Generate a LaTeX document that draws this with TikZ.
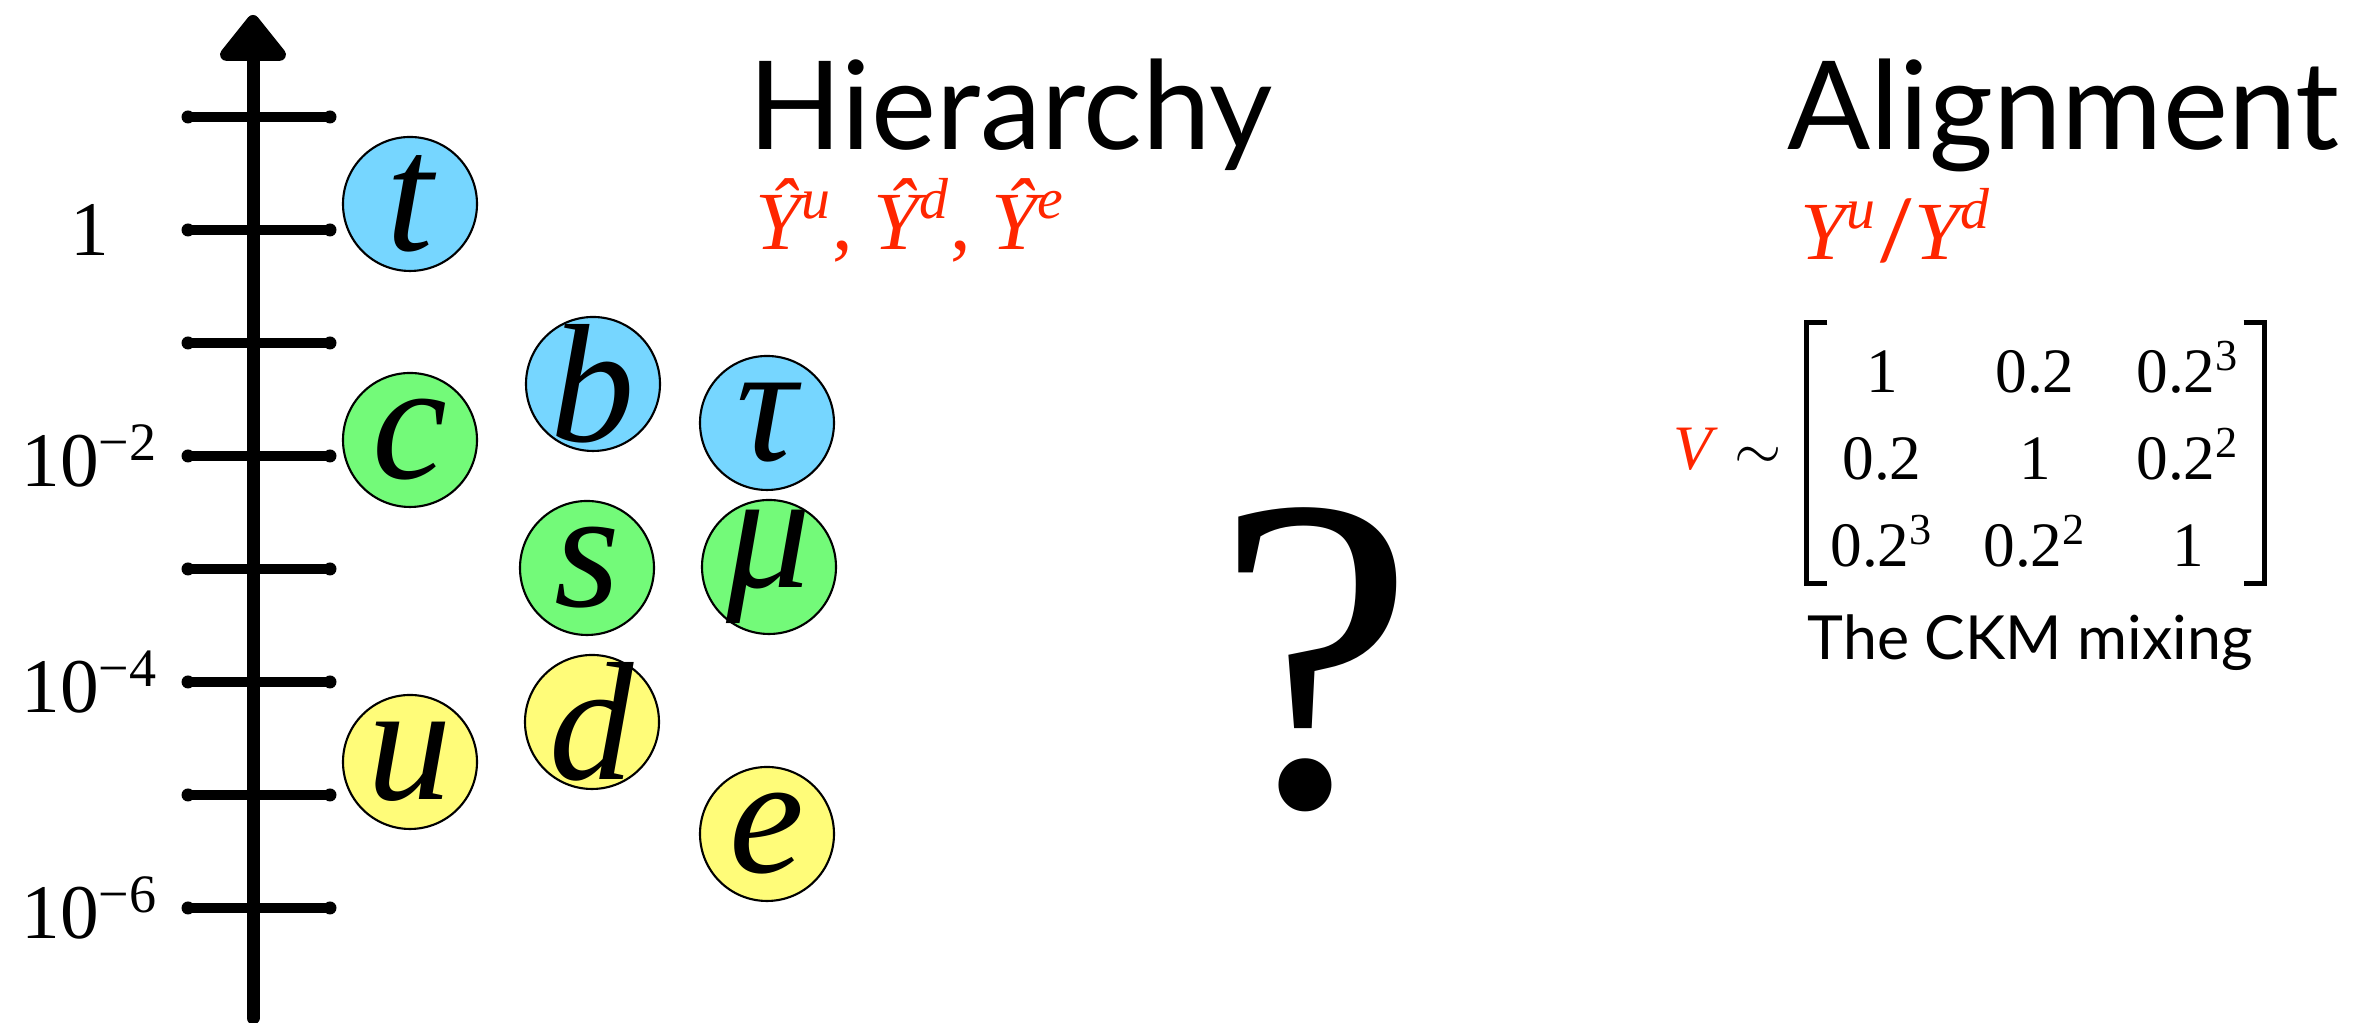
\documentclass[tikz,border=0pt]{standalone}
\usepackage{fontspec}
\setmainfont{Liberation Serif}
\newfontfamily\headfont{Lato}
\usetikzlibrary{arrows.meta,calc,matrix}
\definecolor{sky}{HTML}{76D6FF}
\definecolor{flora}{HTML}{73FA79}
\definecolor{banana}{HTML}{FFFC79}
\definecolor{keyred}{HTML}{FF2600}
% letter centred on its ink, taking no room in the node
\newcommand\fermletter[1]{\sbox0{#1}\makebox[0pt]{\smash{\raisebox{\dimexpr(\dp0-\ht0)/2\relax}{\usebox0}}}}
\tikzset{
  fermion/.style={circle, draw=black, line width=0.6pt, minimum size=1.34cm, inner sep=0pt, font=\fontsize{48}{52}\selectfont\itshape},
  gen3/.style={fermion, fill=sky},
  gen2/.style={fermion, fill=flora},
  gen1/.style={fermion, fill=banana},
  axis/.style={line width=0.13cm, line cap=round, -{Triangle[length=0.5cm, width=0.76cm, round]}},
  tickmark/.style={line width=0.1cm, line cap=round},
  scalelabel/.style={font=\fontsize{22}{26}\selectfont, inner sep=0pt},
  heading/.style={anchor=base west, inner sep=0pt, font=\fontsize{35}{40}\selectfont\headfont},
  coupling/.style={anchor=base west, inner sep=0pt, text=keyred, font=\fontsize{23.5}{28}\selectfont},
  entry/.style={font=\fontsize{18}{22}\selectfont, minimum width=1.3cm, text height=0.5cm, text depth=0.05cm, inner sep=0pt},
  bracket/.style={line width=1.3pt}
}

\begin{document}
\begin{tikzpicture}
  \useasboundingbox (0,0) rectangle (23.66,10.23);
  % the mass scale
  \coordinate (axisbot) at (2.53,0.05);
  \coordinate (axistop) at (2.53,10.08);
  \foreach \k in {0,...,7} {
    \draw[tickmark] (1.88,{9.06-1.13*\k}) -- (3.30,{9.06-1.13*\k});
    \fill (1.88,{9.06-1.13*\k}) circle (0.065) (3.30,{9.06-1.13*\k}) circle (0.065);
  }
  \draw[axis] (axisbot) -- (axistop);
  \node[scalelabel] (exp0) at (0.90,7.93) {1};
  \foreach \k/\e in {3/2,5/4,7/6}
    \node[scalelabel] (exp\e) at (0.90,{9.06-1.13*\k}) {10\textsuperscript{−\e}};

  % the fermions
  \node[gen3] (top) at (4.10,8.19) {\fermletter{t}};
  \node[gen2] (charm) at (4.10,5.83) {\fermletter{c}};
  \node[gen1] (up) at (4.10,2.61) {\fermletter{u}};
  \node[gen3] (bottom) at (5.93,6.39) {\fermletter{b}};
  \node[gen2] (strange) at (5.87,4.55) {\fermletter{s}};
  \node[gen1] (down) at (5.92,3.01) {\fermletter{d}};
  \node[gen3] (tau) at (7.67,6.00) {\fermletter{τ}};
  \node[gen2] (muon) at (7.69,4.56) {\fermletter{μ}};
  \node[gen1] (electron) at (7.67,1.89) {\fermletter{e}};

  \node[heading] (hier) at (7.48,8.73) {Hierarchy};
  \node[coupling] (yhat) at (7.55,7.73) {\textit{Ŷ\textsuperscript{u}}, \textit{Ŷ\textsuperscript{d}}, \textit{Ŷ\textsuperscript{e}}};

  \node[font=\fontsize{128}{140}\selectfont, inner sep=0pt, anchor=base] (puzzle) at (13.15,2.17) {?};

  \node[heading] (align) at (17.87,8.73) {Alignment};
  \node[coupling] (yratio) at (18.00,7.63) {\textit{Y\textsuperscript{u}}{\headfont /}\textit{Y\textsuperscript{d}}};

  % CKM matrix
  \node[coupling, font=\fontsize{18}{22}\selectfont] (vlabel) at (16.73,5.53) {\textit{V} \textcolor{black}{$\sim$}};
  \matrix (ckm) [matrix of nodes, nodes={entry}, inner sep=0pt, row sep=0.32cm, column sep=0.23cm] at (20.35,5.655) {
    1 & 0.2 & 0.2\textsuperscript{3} \\
    0.2 & 1 & 0.2\textsuperscript{2} \\
    0.2\textsuperscript{3} & 0.2\textsuperscript{2} & 1 \\
  };
  \draw[bracket] ($(ckm.north west)+(0.11,0.2)$) -- ++(-0.21,0) |- ($(ckm.south west)+(0.11,-0.11)$);
  \draw[bracket] ($(ckm.north east)+(-0.1,0.2)$) -- ++(0.21,0) |- ($(ckm.south east)+(-0.1,-0.11)$);
  \node[heading, font=\fontsize{17.3}{21}\selectfont\headfont] (ckmnote) at (18.07,3.63) {The CKM mixing};
\end{tikzpicture}
\end{document}
